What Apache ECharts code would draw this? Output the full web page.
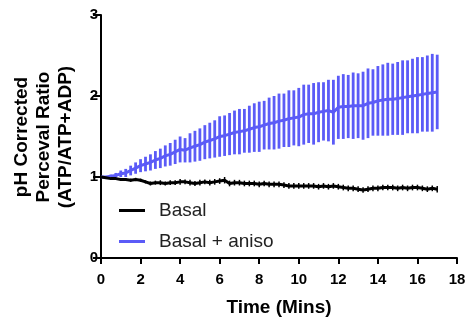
<!DOCTYPE html>
<html>
<head>
<meta charset="utf-8">
<script src="https://cdn.jsdelivr.net/npm/echarts@6/dist/echarts.min.js"></script>
<style>html,body{margin:0;padding:0;background:#fff}#c{width:470px;height:322px}</style>
</head>
<body>
<div id="c"></div>
<script>
// Time points (minutes)
const times = [0,0.25,0.5,0.75,1,1.25,1.5,1.75,2,2.25,2.5,2.75,3,3.25,3.5,3.75,4,4.25,4.5,4.75,5,5.25,5.5,5.75,6,6.25,6.5,6.75,7,7.25,7.5,7.75,8,8.25,8.5,8.75,9,9.25,9.5,9.75,10,10.25,10.5,10.75,11,11.25,11.5,11.75,12,12.25,12.5,12.75,13,13.25,13.5,13.75,14,14.25,14.5,14.75,15,15.25,15.5,15.75,16,16.25,16.5,16.75,17];
// Basal mean and error
const basalMean = [1.00,0.99,0.98,0.98,0.97,0.97,0.96,0.97,0.96,0.94,0.92,0.93,0.93,0.92,0.93,0.93,0.94,0.94,0.93,0.92,0.93,0.94,0.93,0.94,0.95,0.96,0.92,0.93,0.93,0.92,0.92,0.92,0.91,0.92,0.91,0.91,0.91,0.90,0.89,0.89,0.89,0.89,0.89,0.89,0.88,0.89,0.88,0.89,0.88,0.87,0.86,0.86,0.85,0.84,0.85,0.86,0.86,0.87,0.87,0.87,0.86,0.87,0.86,0.87,0.87,0.86,0.85,0.86,0.85];
const basalErr = [0.00,0.005,0.01,0.01,0.015,0.015,0.02,0.02,0.02,0.02,0.025,0.025,0.03,0.025,0.03,0.03,0.035,0.03,0.035,0.03,0.035,0.03,0.035,0.035,0.035,0.04,0.035,0.035,0.035,0.035,0.035,0.035,0.035,0.035,0.035,0.035,0.035,0.035,0.035,0.035,0.035,0.035,0.035,0.035,0.035,0.035,0.035,0.035,0.035,0.035,0.035,0.035,0.035,0.035,0.035,0.035,0.035,0.035,0.035,0.035,0.035,0.035,0.035,0.035,0.035,0.035,0.035,0.035,0.04];
// Basal + aniso mean and error
const anisoMean = [1.00,1.00,1.01,1.02,1.04,1.05,1.08,1.11,1.14,1.16,1.18,1.21,1.23,1.26,1.28,1.31,1.34,1.33,1.36,1.38,1.40,1.43,1.45,1.47,1.50,1.51,1.53,1.55,1.56,1.57,1.59,1.61,1.62,1.64,1.66,1.67,1.69,1.70,1.72,1.73,1.74,1.77,1.78,1.78,1.80,1.81,1.82,1.80,1.86,1.87,1.87,1.88,1.88,1.88,1.91,1.92,1.94,1.95,1.96,1.96,1.97,1.98,1.99,2.00,2.01,2.02,2.03,2.04,2.05];
const anisoErr = [0.00,0.01,0.02,0.03,0.04,0.05,0.06,0.07,0.08,0.09,0.10,0.11,0.12,0.13,0.14,0.15,0.16,0.15,0.18,0.19,0.20,0.21,0.22,0.23,0.25,0.25,0.26,0.27,0.28,0.27,0.29,0.30,0.31,0.30,0.32,0.33,0.34,0.33,0.35,0.34,0.36,0.37,0.36,0.38,0.37,0.36,0.38,0.40,0.39,0.40,0.39,0.41,0.40,0.42,0.43,0.41,0.43,0.44,0.45,0.44,0.45,0.46,0.45,0.46,0.47,0.46,0.47,0.48,0.46];
// Axis ticks
const xTicks = [0,2,4,6,8,10,12,14,16,18];
const yTicks = [0,1,2,3];
const seriesNames = ['Basal','Basal + aniso'];
const colors = ['#000000','#5b5bf7'];

const chart = echarts.init(document.getElementById('c'), null, {renderer:'canvas'});
function errData(mean, err){ return times.map((t,i)=>[t, mean[i]-err[i], mean[i]+err[i]]); }
function errSeries(mean, err, color, w){
  return {
    type:'custom', silent:true, z:2,
    data: errData(mean, err),
    encode:{x:0, y:[1,2]},
    renderItem:function(params, api){
      const lo = api.coord([api.value(0), api.value(1)]);
      const hi = api.coord([api.value(0), api.value(2)]);
      return {type:'line', shape:{x1:lo[0],y1:lo[1],x2:hi[0],y2:hi[1]}, style:{stroke:color, lineWidth:w}};
    }
  };
}
const axisLineStyle = {color:'#000', width:2};
const font = 'Liberation Sans, Arial';
chart.setOption({
  animation:false,
  grid:{left:101, right:13, top:15, bottom:63},
  xAxis:{
    type:'value', min:xTicks[0], max:xTicks[xTicks.length-1], interval:2,
    axisLine:{show:true, lineStyle:axisLineStyle},
    axisTick:{show:true, length:6, lineStyle:axisLineStyle},
    splitLine:{show:false},
    axisLabel:{color:'#000', fontFamily:font, fontWeight:'bold', fontSize:15, margin:14},
    name:'Time (Mins)', nameLocation:'middle', nameGap:40,
    nameTextStyle:{color:'#000', fontFamily:font, fontWeight:'bold', fontSize:19}
  },
  yAxis:{
    type:'value', min:yTicks[0], max:yTicks[yTicks.length-1], interval:1,
    axisLine:{show:true, lineStyle:axisLineStyle},
    axisTick:{show:true, length:8, lineStyle:axisLineStyle},
    splitLine:{show:false},
    axisLabel:{color:'#000', fontFamily:font, fontWeight:'bold', fontSize:15, margin:3}
  },
  graphic:[{
    type:'text', x:44, y:137, rotation:Math.PI/2,
    style:{text:'pH Corrected\nPerceval Ratio\n(ATP/ATP+ADP)', fill:'#000', font:'bold 19px "Liberation Sans", Arial', textAlign:'center', textVerticalAlign:'middle', lineHeight:22}
  }],
  legend:{
    orient:'vertical', left:114, top:196, itemWidth:26, itemHeight:3, itemGap:12,
    data:[{name:seriesNames[0], icon:'rect'},{name:seriesNames[1], icon:'rect'}],
    textStyle:{color:'#222', fontFamily:font, fontSize:19, padding:[0,0,0,9]}
  },
  series:[
    errSeries(anisoMean, anisoErr, colors[1], 2.8),
    {name:seriesNames[1], type:'line', data:times.map((t,i)=>[t, anisoMean[i]]), showSymbol:false, symbol:'none', lineStyle:{color:colors[1], width:3}, itemStyle:{color:colors[1]}, z:3},
    errSeries(basalMean, basalErr, colors[0], 1.5),
    {name:seriesNames[0], type:'line', data:times.map((t,i)=>[t, basalMean[i]]), showSymbol:false, symbol:'none', lineStyle:{color:colors[0], width:3}, itemStyle:{color:colors[0]}, z:4}
  ]
});
</script>
</body>
</html>
